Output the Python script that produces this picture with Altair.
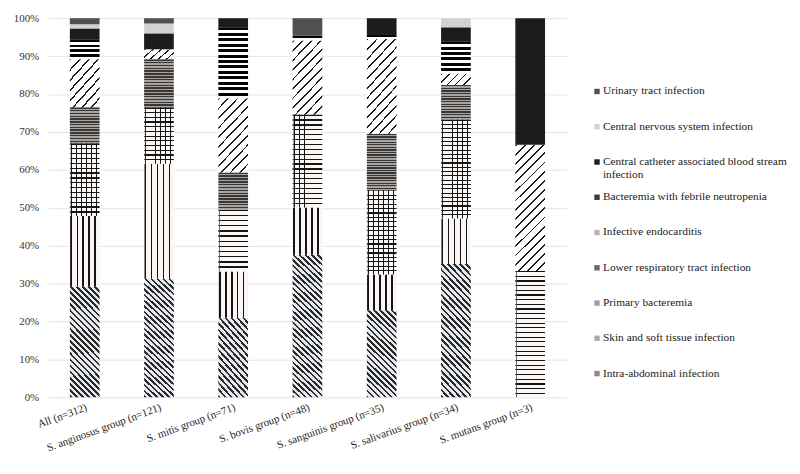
import math
import altair as alt
import pandas as pd

# ---------------- data ----------------
groups = [
    "All (n=312)",
    "S. anginosus group (n=121)",
    "S. mitis group (n=71)",
    "S. bovis group (n=48)",
    "S. sanguinis group (n=35)",
    "S. salivarius group (n=34)",
    "S. mutans group (n=3)",
]

# stack order, bottom -> top
categories = [
    "Intra-abdominal infection",
    "Skin and soft tissue infection",
    "Primary bacteremia",
    "Lower respiratory tract infection",
    "Infective endocarditis",
    "Bacteremia with febrile neutropenia",
    "Central catheter associated blood stream infection",
    "Central nervous system infection",
    "Urinary tract infection",
]

# percentages per group (same order as groups)
intra_abdominal = [29.2, 31.3, 21.0, 37.6, 23.0, 35.2, 0.0]
skin_soft_tissue = [18.6, 30.3, 12.2, 12.5, 9.4, 12.0, 0.0]
primary_bacteremia = [19.2, 14.9, 16.3, 24.5, 22.2, 26.1, 33.3]
lower_respiratory = [9.5, 12.7, 9.8, 0.0, 14.9, 9.1, 0.0]
infective_endocarditis = [12.7, 2.6, 19.6, 19.5, 25.0, 3.0, 33.3]
febrile_neutropenia = [5.1, 0.0, 18.7, 1.3, 1.3, 8.5, 0.0]
central_catheter = [3.0, 4.2, 2.4, 0.0, 4.2, 3.7, 33.4]
central_nervous = [1.1, 2.6, 0.0, 0.0, 0.0, 2.4, 0.0]
urinary_tract = [1.6, 1.4, 0.0, 4.6, 0.0, 0.0, 0.0]

series = [
    intra_abdominal, skin_soft_tissue, primary_bacteremia, lower_respiratory,
    infective_endocarditis, febrile_neutropenia, central_catheter,
    central_nervous, urinary_tract,
]

rows = []
for ci, (cat, vals) in enumerate(zip(categories, series)):
    for g, v in zip(groups, vals):
        if v > 0:
            rows.append({"group": g, "cat": cat, "pct": v, "order": ci})
df = pd.DataFrame(rows)

# ---------------- styles ----------------
PLOT_W, PLOT_H = 525, 383
BAR_W = PLOT_W / 7 * 0.4  # band width

flat_colors = ["#8a8a8a", "#ababab", "#a0a0a0", "#6a6a6a", "#b8b8b8",
               "#3a3a3a", "#1c1c1c", "#d2d2d2", "#505050"]
CLEAR = "rgba(255,255,255,0)"


def stripe_stops(n, dark, light, frac, phase=0.0):
    stops = []
    if phase > 0:
        stops.append({"offset": 0, "color": light})
    for i in range(n):
        a = (i + phase) / n
        b = (i + phase + frac) / n
        c = (i + 1 + phase) / n
        for off, col in ((a, dark), (b, dark), (b, light), (c, light)):
            stops.append({"offset": round(max(0, min(off, 1)), 4), "color": col})
    return stops


def hgrad(n, dark, light, frac):
    return {"gradient": "linear", "x1": 0, "y1": 0, "x2": 0, "y2": 1,
            "stops": stripe_stops(n, dark, light, frac)}


def vgrad(n, dark, light, frac, phase):
    return {"gradient": "linear", "x1": 0, "y1": 0, "x2": 1, "y2": 0,
            "stops": stripe_stops(n, dark, light, frac, phase)}


def dgrad(h, period, dark, light, frac, direction):
    w = BAR_W
    k = (w + h) / (w * w + h * h)
    n = max(1, round((w + h) / (math.sqrt(2) * period)))
    if direction == "\\":
        coords = {"x1": 0, "y1": 1, "x2": round(k * w, 4), "y2": round(1 - k * h, 4)}
    else:
        coords = {"x1": 0, "y1": 0, "x2": round(k * w, 4), "y2": round(k * h, 4)}
    return {"gradient": "linear", **coords, "stops": stripe_stops(n, dark, light, frac)}


tiers = [0.02, 0.04, 0.07, 0.10, 0.13, 0.17, 0.21, 0.26, 0.31, 0.36, 1.01]


def tiered(cat, maker):
    conds = []
    prev = 0.0
    for t in tiers:
        mid = (prev + min(t, 0.44)) / 2
        h = max(mid * PLOT_H, 3)
        conds.append({"test": f"datum.cat === '{cat}' && (datum.y1 - datum.y0) < {t}",
                      "value": maker(h)})
        prev = t
    return conds


conditions = []
conditions += tiered(categories[0], lambda h: dgrad(h, 4.3, "#2a2a2a", "#e6eaee", 0.42, "\\"))
conditions.append({"test": f"datum.cat === '{categories[1]}'",
                   "value": vgrad(5, "#151515", "#fbf6f4", 0.27, 0.12)})
conditions += tiered(categories[2], lambda h: hgrad(max(1, round(h / 4.8)), "#151515", "#fbf7f5", 0.26))
conditions += tiered(categories[3], lambda h: hgrad(max(1, round(h / 2.6)), "#383838", "#a9a3a0", 0.5))
conditions += tiered(categories[4], lambda h: dgrad(h, 6.5, "#1a1a1a", "#ffffff", 0.2, "/"))
conditions += tiered(categories[5], lambda h: hgrad(max(1, round(h / 5.5)), "#050505", "#ffffff", 0.55))

fill_def = {
    "field": "cat",
    "type": "nominal",
    "scale": {"domain": categories, "range": flat_colors},
    "legend": None,
    "condition": conditions,
}

FONT = "Liberation Serif"

x_enc = alt.X("group:N", sort=groups,
              scale=alt.Scale(paddingInner=0.6, paddingOuter=0.3),
              axis=alt.Axis(title=None, labelAngle=-20, labelAlign="right",
                            labelBaseline="top", ticks=False, domain=False,
                            labelPadding=4, labelFontSize=11, labelFont=FONT,
                            labelColor="#222222", labelLimit=300))
y_enc = alt.Y("y0:Q", scale=alt.Scale(domain=[0, 1]),
              axis=alt.Axis(title=None, values=[i / 10 for i in range(11)], format=".0%",
                            ticks=False, domain=False, gridColor="#e4e4e4",
                            labelPadding=9, labelFontSize=11, labelFont=FONT,
                            labelColor="#333333"))

stacked = alt.Chart(df).transform_stack(
    stack="pct", groupby=["group"], as_=["y0", "y1"],
    offset="normalize", sort=[alt.SortField("order", order="ascending")])

bars_main = stacked.mark_bar().encode(x=x_enc, y=y_enc, y2="y1:Q", fill=fill_def)

# vertical joints of the brick pattern (Primary bacteremia)
brick_joints = (
    stacked.transform_filter(alt.datum.cat == categories[2])
    .mark_bar(fill=vgrad(6, "#151515", CLEAR, 0.11, 0.3))
    .encode(x=x_enc, y=y_enc, y2="y1:Q")
)

bars = alt.layer(bars_main, brick_joints).properties(width=PLOT_W, height=PLOT_H)

legend_order = list(reversed(categories))
legend_df = pd.DataFrame({
    "cat": legend_order,
    "label": [c.replace("blood stream infection", "blood stream\ninfection") for c in legend_order],
})

leg_base = alt.Chart(legend_df).encode(
    y=alt.Y("cat:N", sort=legend_order,
            scale=alt.Scale(type="point", range=[74, 359], padding=0), axis=None)
)
leg_sym = leg_base.mark_square(size=30, opacity=1).encode(
    x=alt.value(10),
    fill=alt.Fill("cat:N", scale=alt.Scale(domain=categories, range=flat_colors), legend=None),
)
leg_txt = leg_base.mark_text(align="left", baseline="top", dy=-6, lineBreak="\n",
                             font=FONT, fontSize=11.5, color="#222222", lineHeight=13).encode(
    x=alt.value(16),
    text="label:N",
)
legend_panel = (leg_sym + leg_txt).properties(width=185, height=PLOT_H)

chart = (
    alt.hconcat(bars, legend_panel, spacing=20, bounds="flush")
    .resolve_scale(x="independent", y="independent")
    .properties(padding={"left": 5, "top": 2, "right": 5, "bottom": 5})
    .configure(font=FONT)
    .configure_view(strokeWidth=0)
)

chart.save("out.html", embed_options={"renderer": "svg", "actions": False})
